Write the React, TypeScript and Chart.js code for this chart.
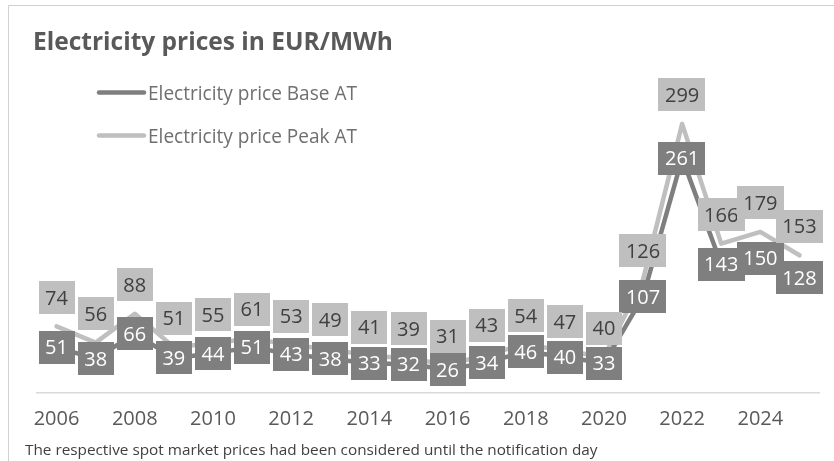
import React, { useEffect, useRef } from 'react';
import { Chart, registerables } from 'chart.js';

Chart.register(...registerables);

const YEARS = ['2006', '2007', '2008', '2009', '2010', '2011', '2012', '2013', '2014', '2015', '2016', '2017', '2018', '2019', '2020', '2021', '2022', '2023', '2024', '2025'];
const BASE_PRICES = [51, 38, 66, 39, 44, 51, 43, 38, 33, 32, 26, 34, 46, 40, 33, 107, 261, 143, 150, 128];
const PEAK_PRICES = [74, 56, 88, 51, 55, 61, 53, 49, 41, 39, 31, 43, 54, 47, 40, 126, 299, 166, 179, 153];
const SERIES_NAMES = ['Electricity price Base AT', 'Electricity price Peak AT'];
const TITLE = 'Electricity prices in EUR/MWh';
const FOOTNOTE = 'The respective spot market prices had been considered until the notification day';
const Y_MAX = 350;

const FONT = '"Open Sans", "Noto Sans", sans-serif';
const BASE_COLOR = '#7f7f7f';
const PEAK_COLOR = '#bfbfbf';

function fitSize(ctx: CanvasRenderingContext2D, text: string, weight: string, target: number, base: number) {
  ctx.font = `${weight} ${base}px ${FONT}`;
  const w = ctx.measureText(text).width;
  return (base * target) / w;
}

const decorPlugin = {
  id: 'decor',
  beforeDraw(chart: any) {
    const ctx: CanvasRenderingContext2D = chart.ctx;
    ctx.save();
    ctx.fillStyle = '#ffffff';
    ctx.fillRect(0, 0, chart.width, chart.height);
    // frame
    ctx.strokeStyle = '#d0d0d0';
    ctx.lineWidth = 1;
    ctx.beginPath();
    ctx.moveTo(8.5, chart.height);
    ctx.lineTo(8.5, 5.5);
    ctx.lineTo(chart.width, 5.5);
    ctx.stroke();
    // title
    ctx.textAlign = 'left';
    ctx.textBaseline = 'alphabetic';
    let s = fitSize(ctx, TITLE, 'bold', 360, 24);
    ctx.font = `bold ${s}px ${FONT}`;
    ctx.fillStyle = '#595959';
    ctx.fillText(TITLE, 33, 50);
    // legend
    s = fitSize(ctx, SERIES_NAMES[0], 'normal', 209, 20);
    const rows = [
      { lineY: 92.5, base: 100, color: BASE_COLOR },
      { lineY: 135.5, base: 142.5, color: PEAK_COLOR },
    ];
    rows.forEach((r, i) => {
      ctx.strokeStyle = r.color;
      ctx.lineWidth = 4.5;
      ctx.lineCap = 'round';
      ctx.beginPath();
      ctx.moveTo(99, r.lineY);
      ctx.lineTo(144, r.lineY);
      ctx.stroke();
      ctx.font = `normal ${s}px ${FONT}`;
      ctx.fillStyle = '#6f6f6f';
      ctx.fillText(SERIES_NAMES[i], 148, r.base);
    });
    // footnote
    s = fitSize(ctx, FOOTNOTE, 'normal', 573, 16);
    ctx.font = `normal ${s}px ${FONT}`;
    ctx.fillStyle = '#404040';
    ctx.fillText(FOOTNOTE, 25, 455);
    ctx.restore();
  },
  afterDatasetsDraw(chart: any) {
    const ctx: CanvasRenderingContext2D = chart.ctx;
    ctx.save();
    const size = 20;
    ctx.font = `normal ${size}px ${FONT}`;
    ctx.textAlign = 'center';
    ctx.textBaseline = 'alphabetic';
    const specs = [
      { ds: 0, offset: 0, fill: BASE_COLOR, text: '#ffffff' },
      { ds: 1, offset: -29, fill: PEAK_COLOR, text: '#404040' },
    ];
    specs.forEach((sp) => {
      const meta = chart.getDatasetMeta(sp.ds);
      const data = chart.data.datasets[sp.ds].data as number[];
      meta.data.forEach((pt: any, i: number) => {
        const label = String(data[i]);
        const tw = ctx.measureText(label).width;
        const w = tw + 13;
        const h = 33;
        const cx = pt.x;
        const cy = pt.y + sp.offset;
        ctx.fillStyle = sp.fill;
        ctx.fillRect(Math.round(cx - w / 2), Math.round(cy - h / 2), Math.round(w), h);
        ctx.fillStyle = sp.text;
        ctx.fillText(label, cx, cy + size * 0.357);
      });
    });
    ctx.restore();
  },
};

export default function App() {
  const ref = useRef<HTMLCanvasElement | null>(null);

  useEffect(() => {
    if (!ref.current) return;
    const chart = new Chart(ref.current, {
      type: 'line',
      data: {
        labels: YEARS,
        datasets: [
          {
            label: SERIES_NAMES[0],
            data: BASE_PRICES,
            borderColor: BASE_COLOR,
            backgroundColor: BASE_COLOR,
            borderWidth: 4.5,
            pointRadius: 0,
            tension: 0,
            borderJoinStyle: 'round',
            borderCapStyle: 'round',
            clip: false as any,
          },
          {
            label: SERIES_NAMES[1],
            data: PEAK_PRICES,
            borderColor: PEAK_COLOR,
            backgroundColor: PEAK_COLOR,
            borderWidth: 4.5,
            pointRadius: 0,
            tension: 0,
            borderJoinStyle: 'round',
            borderCapStyle: 'round',
            clip: false as any,
          },
        ],
      },
      options: {
        responsive: false,
        animation: false,
        devicePixelRatio: 1,
        layout: { padding: { top: 78, left: 37, right: 15, bottom: 15 } },
        plugins: {
          legend: { display: false },
          title: { display: false },
          tooltip: { enabled: false },
        },
        scales: {
          x: {
            type: 'category',
            offset: true,
            grid: { display: false, drawTicks: false },
            border: { display: true, color: '#d9d9d9', width: 1.5 },
            ticks: {
              autoSkip: false,
              maxRotation: 0,
              padding: 14.5,
              color: '#595959',
              font: { family: FONT, size: 20 },
              callback: (_v: any, idx: number) => (idx % 2 === 0 ? YEARS[idx] : null),
            },
          },
          y: {
            display: false,
            min: 0,
            max: Y_MAX,
          },
        },
      },
      plugins: [decorPlugin],
    });
    return () => chart.destroy();
  }, []);

  return (
    <div style={{ position: 'fixed', left: 0, top: 0, width: 834, height: 461, background: '#fff' }}>
      <canvas ref={ref} width={834} height={461} style={{ width: 834, height: 461, display: 'block' }} />
    </div>
  );
}
